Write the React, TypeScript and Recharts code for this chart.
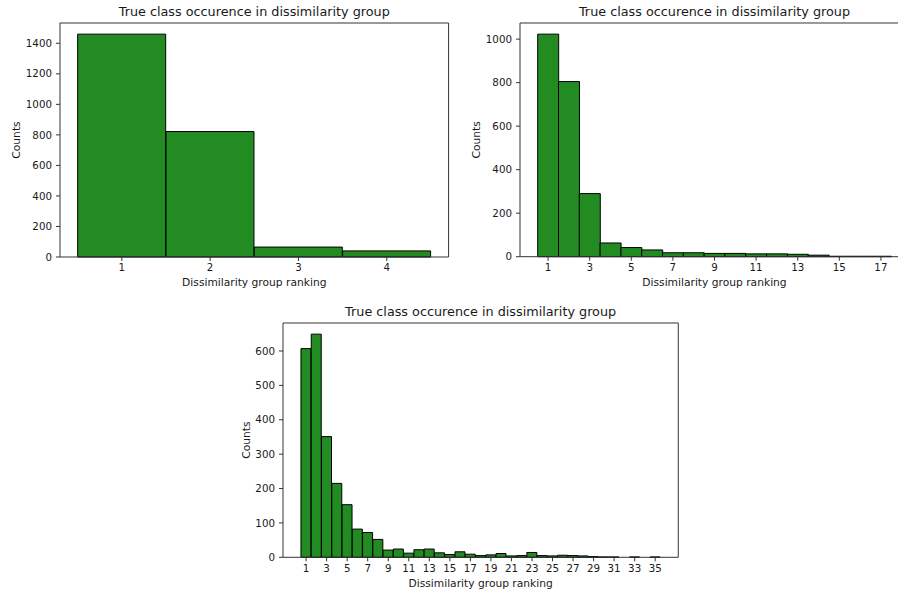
import React from 'react';
import { ComposedChart, Bar, Line, XAxis, YAxis, Label } from 'recharts';

const TITLE = 'True class occurence in dissimilarity group';
const X_LABEL = 'Dissimilarity group ranking';
const Y_LABEL = 'Counts';

const rankings1 = [1, 2, 3, 4];
const counts1 = [1460, 822, 65, 40];
const yTicks1 = [0, 200, 400, 600, 800, 1000, 1200, 1400];

const rankings2 = [1, 2, 3, 4, 5, 6, 7, 8, 9, 10, 11, 12, 13, 14, 15, 16, 17];
const counts2 = [1023, 805, 290, 63, 42, 31, 18, 18, 15, 15, 13, 13, 11, 7, 2, 2, 2];
const yTicks2 = [0, 200, 400, 600, 800, 1000];

const rankings3 = [
  1, 2, 3, 4, 5, 6, 7, 8, 9, 10, 11, 12, 13, 14, 15, 16, 17, 18,
  19, 20, 21, 22, 23, 24, 25, 26, 27, 28, 29, 30, 31, 32, 33, 34, 35,
];
const counts3 = [
  607, 649, 351, 215, 153, 82, 72, 52, 21, 24, 12, 22, 24, 13, 8, 16, 9, 5,
  7, 11, 4, 5, 14, 5, 4, 6, 5, 4, 2, 1, 1, 0, 1, 0, 1,
];
const yTicks3 = [0, 100, 200, 300, 400, 500, 600];

const FONT = '"DejaVu Sans", sans-serif';
const TEXT = '#1a1a1a';
const SPINE = '#333';

type PanelProps = {
  ranks: number[];
  counts: number[];
  yTicks: number[];
  plotLeft: number;
  plotTop: number;
  plotW: number;
  plotH: number;
  yLabelGap: number;
  tickInterval: number;
};

function Panel({ ranks, counts, yTicks, plotLeft, plotTop, plotW, plotH, yLabelGap, tickInterval }: PanelProps) {
  const AXW = 60;
  const MT = 30;
  const MR = 12;
  const XH = 40;
  const EPS = 0.001;
  const data = ranks.map((r, i) => ({ rank: String(r), count: counts[i] }));
  const pad = plotW / 22;
  const domain: any = [0, (m: number) => m * 1.05];
  const tickStyle = { fontSize: 10.3, fontFamily: FONT, fill: TEXT };
  return (
    <div style={{ position: 'absolute', left: plotLeft - AXW, top: plotTop - MT }}>
      <ComposedChart
        width={AXW + plotW + MR}
        height={MT + plotH + XH}
        data={data}
        margin={{ top: MT - EPS, right: MR - EPS, bottom: 0, left: 0 }}
        barCategoryGap={0}
        barGap={0}
      >
        <XAxis
          xAxisId="b"
          dataKey="rank"
          interval={tickInterval}
          padding={{ left: pad, right: pad }}
          height={XH}
          tickSize={4}
          tickMargin={3}
          tick={tickStyle}
          axisLine={{ stroke: SPINE, strokeWidth: 1 }}
          tickLine={{ stroke: SPINE, strokeWidth: 1 }}
        >
          <Label
            content={(p: any) => {
              const vb = p.viewBox;
              return (
                <text
                  x={vb.x + vb.width / 2}
                  y={vb.y + 29.5}
                  textAnchor="middle"
                  fontSize={10.7}
                  fontFamily={FONT}
                  fill={TEXT}
                >
                  {X_LABEL}
                </text>
              );
            }}
          />
        </XAxis>
        <XAxis
          xAxisId="t"
          dataKey="rank"
          orientation="top"
          height={EPS}
          tick={false}
          tickLine={false}
          padding={{ left: pad, right: pad }}
          axisLine={{ stroke: SPINE, strokeWidth: 1 }}
        >
          <Label
            content={(p: any) => {
              const vb = p.viewBox;
              return (
                <text
                  x={vb.x + vb.width / 2}
                  y={vb.y + vb.height - 6.5}
                  textAnchor="middle"
                  fontSize={12.8}
                  fontFamily={FONT}
                  fill={TEXT}
                >
                  {TITLE}
                </text>
              );
            }}
          />
        </XAxis>
        <YAxis
          yAxisId="l"
          width={AXW}
          ticks={yTicks}
          domain={domain}
          interval={0}
          tickSize={4}
          tickMargin={4}
          tick={tickStyle}
          axisLine={{ stroke: SPINE, strokeWidth: 1 }}
          tickLine={{ stroke: SPINE, strokeWidth: 1 }}
        >
          <Label
            content={(p: any) => {
              const vb = p.viewBox;
              const x = vb.x + vb.width - yLabelGap;
              const y = vb.y + vb.height / 2;
              return (
                <text
                  x={x}
                  y={y}
                  transform={`rotate(-90 ${x} ${y})`}
                  textAnchor="middle"
                  fontSize={10.7}
                  fontFamily={FONT}
                  fill={TEXT}
                >
                  {Y_LABEL}
                </text>
              );
            }}
          />
        </YAxis>
        <YAxis
          yAxisId="r"
          orientation="right"
          width={EPS}
          domain={domain}
          tick={false}
          tickLine={false}
          axisLine={{ stroke: SPINE, strokeWidth: 1 }}
        />
        <Bar
          xAxisId="b"
          yAxisId="l"
          dataKey="count"
          fill="#228B22"
          stroke="#000"
          strokeWidth={1}
          isAnimationActive={false}
        />
        <Line
          xAxisId="t"
          yAxisId="r"
          dataKey="count"
          stroke="none"
          strokeWidth={0}
          dot={false}
          activeDot={false}
          legendType="none"
          isAnimationActive={false}
        />
      </ComposedChart>
    </div>
  );
}

export default function App() {
  return (
    <div
      style={{
        position: 'absolute',
        left: 0,
        top: 0,
        width: 898,
        height: 595,
        overflow: 'hidden',
        background: '#fff',
      }}
    >
      <Panel
        ranks={rankings1}
        counts={counts1}
        yTicks={yTicks1}
        plotLeft={59.7}
        plotTop={22.7}
        plotW={388.6}
        plotH={234}
        yLabelGap={40}
        tickInterval={0}
      />
      <Panel
        ranks={rankings2}
        counts={counts2}
        yTicks={yTicks2}
        plotLeft={519.7}
        plotTop={23}
        plotW={389}
        plotH={233.7}
        yLabelGap={40}
        tickInterval={1}
      />
      <Panel
        ranks={rankings3}
        counts={counts3}
        yTicks={yTicks3}
        plotLeft={283}
        plotTop={322.7}
        plotW={395.3}
        plotH={234.3}
        yLabelGap={33}
        tickInterval={1}
      />
    </div>
  );
}
